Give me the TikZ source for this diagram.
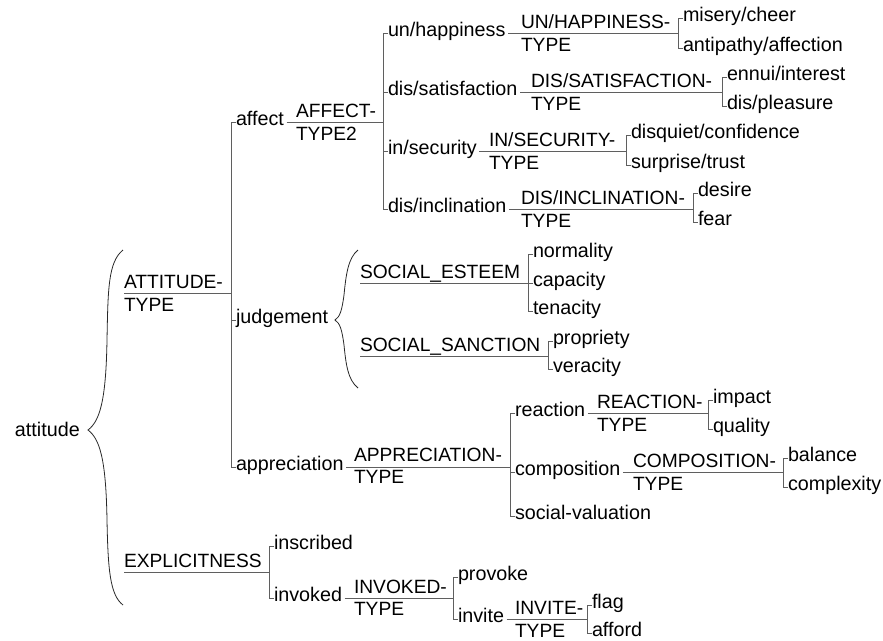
\documentclass[tikz,border=0pt]{standalone}
\usepackage{fontspec}
\setmainfont{Liberation Sans}
\definecolor{netline}{RGB}{95,95,95}
\definecolor{bracecol}{RGB}{40,40,40}
\begin{document}
\begin{tikzpicture}[x=0.75pt,y=-0.75pt,
  every node/.style={font=\fontsize{14.8}{17}\selectfont, inner sep=0pt, outer sep=0pt},
  opt/.style={anchor=mid west},
  ttl/.style={anchor=base west, font=\fontsize{14.4}{17}\selectfont},
  sys/.style={draw=netline, line width=0.7pt},
  curly/.style={draw=bracecol, line width=0.6pt}]
\useasboundingbox (0,0) rectangle (883,640);

% ---- root and the big brace
\node[opt] (attitude) at (15,433) {attitude};
\draw[curly] (123,250) .. controls (108,262) and (108,290) .. (107,340)
  .. controls (106,400) and (100,421) .. (88,430)
  .. controls (100,439) and (106,460) .. (107,520)
  .. controls (108,570) and (110,595) .. (123,605);

% ---- ATTITUDE-TYPE
\node[ttl] (attT1) at (124,288) {ATTITUDE-};
\node[ttl] (attT2) at (124,311) {TYPE};
\coordinate (attS) at (124,293);
\coordinate (attJ) at (231,293);
\node[opt] (affect) at (236,122) {affect};
\node[opt] (judgement) at (236,320) {judgement};
\node[opt] (appreciation) at (236,467) {appreciation};
\draw[sys] (attS) -- (attJ);
\draw[sys] (affect.mid west) -- ++(-5,0) |- (appreciation.mid west);
\draw[sys] (judgement.mid west) -- ++(-5,0);

% ---- AFFECT-TYPE2
\node[ttl] (affT1) at (296,117) {AFFECT-};
\node[ttl] (affT2) at (296,140) {TYPE2};
\coordinate (affJ) at (383,122);
\node[opt] (unh) at (388,33) {un/happiness};
\node[opt] (diss) at (388,92) {dis/satisfaction};
\node[opt] (ins) at (388,151) {in/security};
\node[opt] (disi) at (388,209) {dis/inclination};
\draw[sys] ([xshift=2pt]affect.mid east) -- (affJ);
\draw[sys] (unh.mid west) -- ++(-5,0) |- (disi.mid west);
\draw[sys] (diss.mid west) -- ++(-5,0);
\draw[sys] (ins.mid west) -- ++(-5,0);

% ---- UN/HAPPINESS-TYPE
\node[ttl] (unhT1) at (521,28) {UN/HAPPINESS-};
\node[ttl] (unhT2) at (521,51) {TYPE};
\coordinate (unhJ) at (678,33);
\node[opt] (misery) at (683,18) {misery/cheer};
\node[opt] (antipathy) at (683,48) {antipathy/affection};
\draw[sys] ([xshift=2pt]unh.mid east) -- (unhJ);
\draw[sys] (misery.mid west) -- ++(-5,0) |- (antipathy.mid west);

% ---- DIS/SATISFACTION-TYPE
\node[ttl] (dissT1) at (531,87) {DIS/SATISFACTION-};
\node[ttl] (dissT2) at (531,110) {TYPE};
\coordinate (dissJ) at (722,92);
\node[opt] (ennui) at (727,77) {ennui/interest};
\node[opt] (displ) at (727,106) {dis/pleasure};
\draw[sys] ([xshift=2pt]diss.mid east) -- (dissJ);
\draw[sys] (ennui.mid west) -- ++(-5,0) |- (displ.mid west);

% ---- IN/SECURITY-TYPE
\node[ttl] (insT1) at (489,146) {IN/SECURITY-};
\node[ttl] (insT2) at (489,169) {TYPE};
\coordinate (insJ) at (626,151);
\node[opt] (disquiet) at (631,135) {disquiet/confidence};
\node[opt] (surprise) at (631,165) {surprise/trust};
\draw[sys] ([xshift=2pt]ins.mid east) -- (insJ);
\draw[sys] (disquiet.mid west) -- ++(-5,0) |- (surprise.mid west);

% ---- DIS/INCLINATION-TYPE
\node[ttl] (disiT1) at (521,204) {DIS/INCLINATION-};
\node[ttl] (disiT2) at (521,227) {TYPE};
\coordinate (disiJ) at (693,209);
\node[opt] (desire) at (698,193) {desire};
\node[opt] (fear) at (698,222) {fear};
\draw[sys] ([xshift=2pt]disi.mid east) -- (disiJ);
\draw[sys] (desire.mid west) -- ++(-5,0) |- (fear.mid west);

% ---- judgement brace
\draw[curly] (358,250) .. controls (348,258) and (346,275) .. (344,295)
  .. controls (342,310) and (340,317) .. (335,320)
  .. controls (340,323) and (342,330) .. (344,345)
  .. controls (346,365) and (348,380) .. (358,388);

% ---- SOCIAL_ESTEEM
\node[ttl] (estT) at (360,278) {SOCIAL\_ESTEEM};
\coordinate (estS) at (360,283);
\coordinate (estJ) at (528,283);
\node[opt] (normality) at (533,254) {normality};
\node[opt] (capacity) at (533,283) {capacity};
\node[opt] (tenacity) at (533,311) {tenacity};
\draw[sys] (estS) -- (estJ);
\draw[sys] (normality.mid west) -- ++(-5,0) |- (tenacity.mid west);
\draw[sys] (capacity.mid west) -- ++(-5,0);

% ---- SOCIAL_SANCTION
\node[ttl] (sanT) at (360,351) {SOCIAL\_SANCTION};
\coordinate (sanS) at (360,356);
\coordinate (sanJ) at (548,356);
\node[opt] (propriety) at (553,341) {propriety};
\node[opt] (veracity) at (553,369) {veracity};
\draw[sys] (sanS) -- (sanJ);
\draw[sys] (propriety.mid west) -- ++(-5,0) |- (veracity.mid west);

% ---- APPRECIATION-TYPE
\node[ttl] (appT1) at (354,461) {APPRECIATION-};
\node[ttl] (appT2) at (354,483) {TYPE};
\coordinate (appJ) at (510,467);
\node[opt] (reaction) at (515,413) {reaction};
\node[opt] (composition) at (515,472) {composition};
\node[opt] (socval) at (515,516) {social-valuation};
\draw[sys] ([xshift=2pt]appreciation.mid east) -- (appJ);
\draw[sys] (reaction.mid west) -- ++(-5,0) |- (socval.mid west);
\draw[sys] (composition.mid west) -- ++(-5,0);

% ---- REACTION-TYPE
\node[ttl] (reaT1) at (597,408) {REACTION-};
\node[ttl] (reaT2) at (597,431) {TYPE};
\coordinate (reaJ) at (708,413);
\node[opt] (impact) at (713,400) {impact};
\node[opt] (quality) at (713,429) {quality};
\draw[sys] ([xshift=2pt]reaction.mid east) -- (reaJ);
\draw[sys] (impact.mid west) -- ++(-5,0) |- (quality.mid west);

% ---- COMPOSITION-TYPE
\node[ttl] (comT1) at (633,467) {COMPOSITION-};
\node[ttl] (comT2) at (633,490) {TYPE};
\coordinate (comJ) at (783,472);
\node[opt] (balance) at (788,458) {balance};
\node[opt] (complexity) at (788,487) {complexity};
\draw[sys] ([xshift=2pt]composition.mid east) -- (comJ);
\draw[sys] (balance.mid west) -- ++(-5,0) |- (complexity.mid west);

% ---- EXPLICITNESS
\node[ttl] (expT) at (124,567) {EXPLICITNESS};
\coordinate (expS) at (124,572);
\coordinate (expJ) at (269,572);
\node[opt] (inscribed) at (274,546) {inscribed};
\node[opt] (invoked) at (274,598) {invoked};
\draw[sys] (expS) -- (expJ);
\draw[sys] (inscribed.mid west) -- ++(-5,0) |- (invoked.mid west);

% ---- INVOKED-TYPE
\node[ttl] (invT1) at (354,593) {INVOKED-};
\node[ttl] (invT2) at (354,615) {TYPE};
\coordinate (invJ) at (453,598);
\node[opt] (provoke) at (458,577) {provoke};
\node[opt] (invite) at (458,619) {invite};
\draw[sys] ([xshift=2pt]invoked.mid east) -- (invJ);
\draw[sys] (provoke.mid west) -- ++(-5,0) |- (invite.mid west);

% ---- INVITE-TYPE
\node[ttl] (ivtT1) at (515,614) {INVITE-};
\node[ttl] (ivtT2) at (515,637) {TYPE};
\coordinate (ivtJ) at (587,619);
\node[opt] (flag) at (592,605) {flag};
\node[opt] (afford) at (592,633) {afford};
\draw[sys] ([xshift=2pt]invite.mid east) -- (ivtJ);
\draw[sys] (flag.mid west) -- ++(-5,0) |- (afford.mid west);
\end{tikzpicture}
\end{document}
